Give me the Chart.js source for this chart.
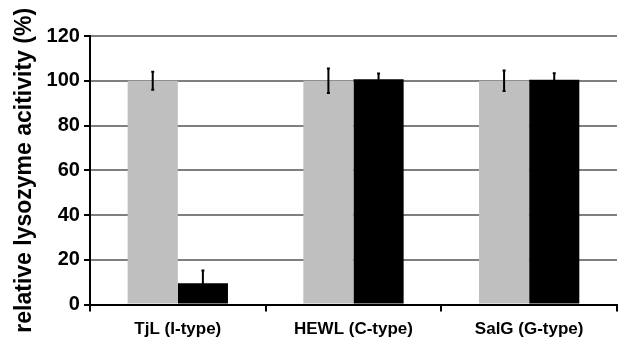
<!DOCTYPE html>
<html>
<head>
<meta charset="utf-8">
<script src="https://cdn.jsdelivr.net/npm/chart.js@4.4.0/dist/chart.umd.min.js"></script>
<style>
  html, body { margin: 0; padding: 0; background: #fff; }
  #wrap { width: 633px; height: 339px; }
</style>
</head>
<body>
<div id="wrap"><canvas id="lysoChart"></canvas></div>
<script>
// data
const categories = ['TjL (I-type)', 'HEWL (C-type)', 'SalG (G-type)'];
const grayValues = [100, 100, 100];
const grayErrors = [4, 5.5, 4.6];
const blackValues = [9.5, 100.7, 100.4];
const blackErrors = [5.7, 2.5, 3];
const yTicks = [0, 20, 40, 60, 80, 100, 120];

// simple error bar plugin, uses the chart's own scales
const errorBars = {
    id: 'errorBars',
    afterDatasetsDraw(chart) {
        const ctx = chart.ctx;
        const yScale = chart.scales.y;
        ctx.save();
        ctx.strokeStyle = '#000';
        ctx.lineWidth = 2;
        chart.data.datasets.forEach((ds, i) => {
            const meta = chart.getDatasetMeta(i);
            meta.data.forEach((bar, j) => {
                const v = ds.data[j];
                const e = ds.errors[j];
                const yTop = yScale.getPixelForValue(v + e);
                const yBot = yScale.getPixelForValue(v - e);
                const x = bar.x;
                ctx.beginPath();
                ctx.moveTo(x, yTop);
                ctx.lineTo(x, yBot);
                ctx.moveTo(x - 1.5, yTop);
                ctx.lineTo(x + 1.5, yTop);
                ctx.moveTo(x - 1.5, yBot);
                ctx.lineTo(x + 1.5, yBot);
                ctx.stroke();
            });
        });
        ctx.restore();
    }
};

const font = 'Liberation Sans, Arial, sans-serif';
const ctx = document.getElementById('lysoChart');
new Chart(ctx, {
    type: 'bar',
    data: {
        labels: categories,
        datasets: [{
            data: grayValues,
            errors: grayErrors,
            backgroundColor: '#bfbfbf',
            borderWidth: 0
        }, {
            data: blackValues,
            errors: blackErrors,
            backgroundColor: '#000000',
            borderWidth: 0
        }]
    },
    options: {
        responsive: true,
        maintainAspectRatio: false,
        animation: false,
        layout: { padding: { top: 36, right: 16, left: 7, bottom: -9 } },
        plugins: {
            legend: { display: false },
            tooltip: { enabled: false }
        },
        datasets: {
            bar: { barPercentage: 1, categoryPercentage: 0.571 }
        },
        scales: {
            x: {
                grid: {
                    display: true,
                    drawOnChartArea: false,
                    tickColor: '#000',
                    tickLength: 7,
                    lineWidth: 2
                },
                border: { color: '#000', width: 2 },
                ticks: {
                    color: '#000',
                    font: { family: font, size: 17, weight: 'bold' },
                    padding: 8
                }
            },
            y: {
                min: 0,
                max: 120,
                afterBuildTicks(axis) {
                    axis.ticks = yTicks.map(v => ({ value: v }));
                },
                grid: {
                    color: '#7f7f7f',
                    lineWidth: 2,
                    tickColor: '#000',
                    tickLength: 6
                },
                border: { color: '#000', width: 2 },
                ticks: {
                    color: '#000',
                    font: { family: font, size: 20, weight: 'bold' },
                    padding: 4
                },
                title: {
                    display: true,
                    text: 'relative lysozyme acitivity (%)',
                    color: '#000',
                    font: { family: font, size: 23, weight: 'bold' },
                    padding: { top: 4, bottom: 4 }
                }
            }
        }
    },
    plugins: [errorBars]
});
</script>
</body>
</html>
